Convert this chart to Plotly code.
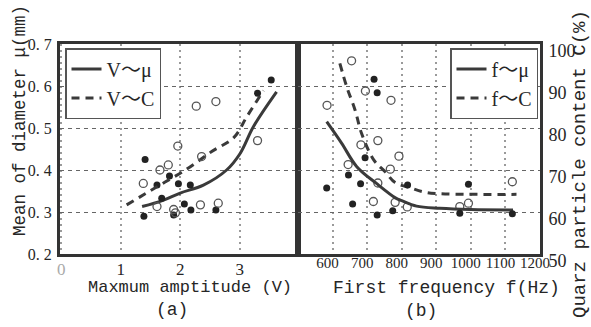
import plotly.graph_objects as go

# ---------------- data ----------------
# panel (a): maximum amplitude V
V_mu_x = [1.41, 1.39, 1.61, 1.69, 1.82, 1.89, 1.97, 2.07, 2.17, 2.18, 2.60, 3.30, 3.53]
V_mu_y = [0.425, 0.290, 0.364, 0.333, 0.386, 0.293, 0.367, 0.319, 0.364, 0.305, 0.305, 0.583, 0.614]
V_C_x = [1.38, 1.61, 1.66, 1.80, 1.89, 1.92, 1.96, 2.27, 2.34, 2.36, 2.60, 2.64, 3.30]
V_C_y = [66.8, 61.3, 70.0, 71.2, 60.6, 59.8, 75.7, 85.2, 61.7, 73.2, 86.3, 62.1, 77.0]
V_mu_fit_x = [1.36, 1.70, 2.00, 2.39, 2.78, 3.01, 3.23, 3.62]
V_mu_fit_y = [0.313, 0.327, 0.345, 0.364, 0.400, 0.440, 0.503, 0.586]
V_C_fit_x = [1.10, 1.61, 2.11, 2.53, 2.90, 3.12, 3.40]
V_C_fit_y = [61.7, 66.0, 70.2, 74.4, 77.7, 82.7, 88.9]

# panel (b): first frequency f
f_mu_x = [583, 646, 658, 681, 694, 720, 729, 729, 774, 817, 968, 993, 1120]
f_mu_y = [0.357, 0.388, 0.319, 0.367, 0.429, 0.616, 0.584, 0.293, 0.303, 0.364, 0.297, 0.366, 0.296]
f_C_x = [584, 645, 655, 682, 695, 718, 731, 731, 767, 769, 781, 792, 816, 968, 993, 1120]
f_C_y = [85.4, 71.3, 96.0, 76.0, 88.8, 62.5, 77.0, 66.9, 70.2, 86.6, 62.3, 73.3, 61.2, 61.3, 62.1, 67.2]
f_mu_fit_x = [583, 626, 670, 727, 783, 800, 843, 910, 1000, 1122]
f_mu_fit_y = [0.515, 0.464, 0.408, 0.368, 0.333, 0.327, 0.314, 0.309, 0.306, 0.305]
f_C_fit_x = [621, 641, 665, 684, 719, 752, 781, 824, 862, 900, 1132]
f_C_fit_y = [95.4, 89.8, 84.3, 78.7, 72.4, 69.6, 67.0, 65.8, 64.8, 64.4, 64.2]

# ticks
mu_ticks = [0.2, 0.3, 0.4, 0.5, 0.6, 0.7]
mu_ticktext = ["0. 2", "0. 3", "0. 4", "0. 5", "0. 6", "0. 7"]
C_ticks = [50, 60, 70, 80, 90, 100]
V_ticks = [0, 1, 2, 3]
V_ticktext = ["<span style='color:#aaaaaa'>0</span>", "1", "2", "3"]
f_ticks = [600, 700, 800, 900, 1000, 1100, 1200]

# ---------------- styles ----------------
DARK = "#262626"
LINE = "#3a3a3a"
MONO = "Liberation Mono, DejaVu Sans Mono, monospace"
SERIF = "Liberation Serif, Noto Sans CJK SC, serif"
split = 238 / 480

fig = go.Figure()

# panel (a)
fig.add_trace(go.Scatter(x=V_mu_fit_x, y=V_mu_fit_y, mode="lines", line=dict(color=LINE, width=3, shape="spline"),
                         name="V～μ", xaxis="x", yaxis="y", legend="legend"))
fig.add_trace(go.Scatter(x=V_C_fit_x, y=V_C_fit_y, mode="lines",
                         line=dict(color=LINE, width=3, dash="8px,6px", shape="spline"),
                         name="V～C", xaxis="x", yaxis="y3", legend="legend"))
fig.add_trace(go.Scatter(x=V_mu_x, y=V_mu_y, mode="markers", showlegend=False,
                         marker=dict(symbol="circle", size=7, color="#222222"), xaxis="x", yaxis="y"))
fig.add_trace(go.Scatter(x=V_C_x, y=V_C_y, mode="markers", showlegend=False,
                         marker=dict(symbol="circle-open", size=8, color="#555555", line=dict(width=1.3)),
                         xaxis="x", yaxis="y3"))

# panel (b)
fig.add_trace(go.Scatter(x=f_mu_fit_x, y=f_mu_fit_y, mode="lines", line=dict(color=LINE, width=3, shape="spline"),
                         name="f～μ", xaxis="x2", yaxis="y4", legend="legend2"))
fig.add_trace(go.Scatter(x=f_C_fit_x, y=f_C_fit_y, mode="lines",
                         line=dict(color=LINE, width=3, dash="8px,6px", shape="spline"),
                         name="f～C", xaxis="x2", yaxis="y2", legend="legend2"))
fig.add_trace(go.Scatter(x=f_mu_x, y=f_mu_y, mode="markers", showlegend=False,
                         marker=dict(symbol="circle", size=7, color="#222222"), xaxis="x2", yaxis="y4"))
fig.add_trace(go.Scatter(x=f_C_x, y=f_C_y, mode="markers", showlegend=False,
                         marker=dict(symbol="circle-open", size=8, color="#555555", line=dict(width=1.3)),
                         xaxis="x2", yaxis="y2"))

vgrid = dict(showgrid=True, gridcolor="#9a9a9a", gridwidth=1.5, griddash="2px,4px")
hgrid = dict(showgrid=True, gridcolor="#666666", gridwidth=1, griddash="4px,4px")
frame = dict(showline=True, linecolor="#333333", linewidth=3, mirror=True, zeroline=False, ticks="")

fig.update_layout(
    width=591, height=327,
    margin=dict(l=60, r=51, t=44, b=73),
    paper_bgcolor="white", plot_bgcolor="white",
    xaxis=dict(domain=[0, split], range=[-0.02, 3.98], tickmode="array", tickvals=V_ticks, ticktext=V_ticktext,
               tickfont=dict(family=SERIF, size=17, color=DARK), ticklabelstandoff=-2, anchor="y", **vgrid, **frame),
    yaxis=dict(range=[0.2, 0.7], tickmode="array", tickvals=mu_ticks, ticktext=mu_ticktext,
               tickfont=dict(family=SERIF, size=16, color=DARK), ticklabelstandoff=2, anchor="x", **hgrid, **frame),
    yaxis3=dict(range=[50, 100], overlaying="y", anchor="x", visible=False),
    xaxis2=dict(domain=[split, 1], range=[500, 1200], tickmode="array", tickvals=f_ticks,
                tickfont=dict(family=SERIF, size=15, color=DARK), ticklabelstandoff=-7, ticklabelshift=-5,
                anchor="y2", **vgrid, **frame),
    yaxis2=dict(range=[50, 100], side="right", tickmode="array", tickvals=C_ticks, anchor="x2",
                tickfont=dict(family=SERIF, size=18, color=DARK), ticklabelstandoff=2, ticklabelshift=7,
                **hgrid, **frame),
    yaxis4=dict(range=[0.2, 0.7], overlaying="y2", anchor="x2", visible=False),
    legend=dict(x=5 / 480, y=1 - 4 / 210, xanchor="left", yanchor="top", bgcolor="white",
                bordercolor="#555555", borderwidth=1.5, font=dict(family=SERIF, size=20, color=DARK),
                itemwidth=30, tracegroupgap=4),
    legend2=dict(x=478 / 480, y=1 - 4 / 210, xanchor="right", yanchor="top", bgcolor="white",
                 bordercolor="#555555", borderwidth=1.5, font=dict(family=SERIF, size=20, color=DARK),
                 itemwidth=30, tracegroupgap=4),
    showlegend=True,
)

ann_font = dict(family=MONO, color=DARK)
fig.add_annotation(text="Mean of diameter μ(mm)", xref="paper", yref="paper", x=-40 / 480, y=1 - 77 / 210,
                   textangle=-90, showarrow=False, xanchor="center", yanchor="middle",
                   font=dict(size=17.5, **ann_font))
fig.add_annotation(text="Quarz particle content C(%)", xref="paper", yref="paper", x=520 / 480, y=1 - 120 / 210,
                   textangle=-90, showarrow=False, xanchor="center", yanchor="middle",
                   font=dict(size=19, **ann_font))
fig.add_annotation(text="Maxmum amptitude (V)", xref="paper", yref="paper", x=130 / 480, y=-(287 - 254) / 210,
                   showarrow=False, xanchor="center", yanchor="middle", font=dict(size=17, **ann_font))
fig.add_annotation(text="First frequency f(Hz)", xref="paper", yref="paper", x=386 / 480, y=-(288 - 254) / 210,
                   showarrow=False, xanchor="center", yanchor="middle", font=dict(size=18, **ann_font))
fig.add_annotation(text="(a)", xref="paper", yref="paper", x=112 / 480, y=-(310 - 254) / 210,
                   showarrow=False, xanchor="center", yanchor="middle", font=dict(size=18, **ann_font))
fig.add_annotation(text="(b)", xref="paper", yref="paper", x=361 / 480, y=-(311 - 254) / 210,
                   showarrow=False, xanchor="center", yanchor="middle", font=dict(size=18, **ann_font))

fig.write_html("out.html")
